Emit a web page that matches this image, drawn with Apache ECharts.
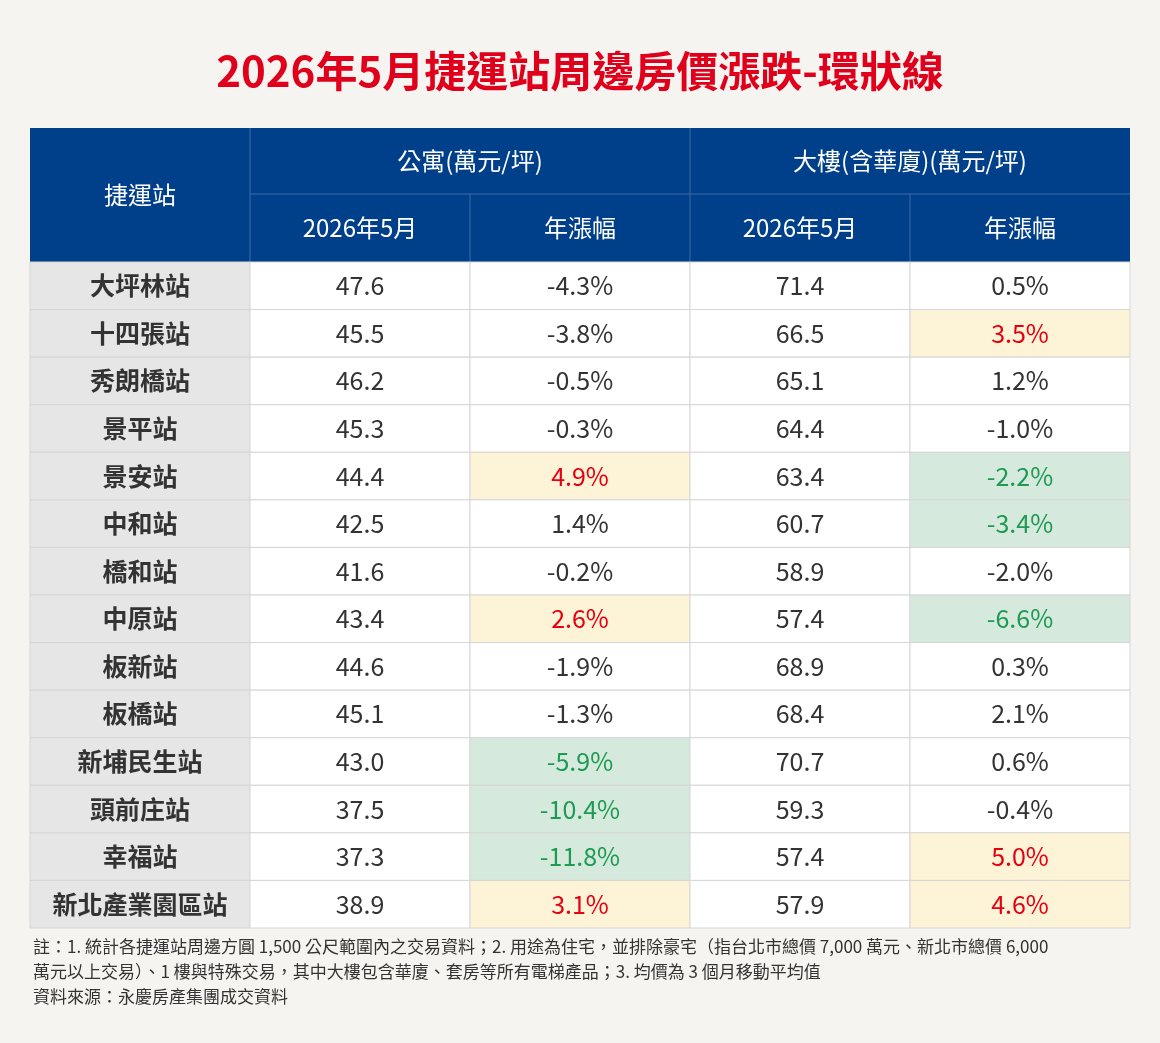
<!DOCTYPE html>
<html><head><meta charset="utf-8">
<script src="https://cdn.jsdelivr.net/npm/echarts@6/dist/echarts.min.js"></script>
<style>html,body{margin:0;background:#f5f4f0}#c{width:1160px;height:1043px}</style>
</head><body><div id="c"></div>
<script>
// 資料
var stations = ['大坪林站','十四張站','秀朗橋站','景平站','景安站','中和站','橋和站','中原站','板新站','板橋站','新埔民生站','頭前庄站','幸福站','新北產業園區站'];
var aptPrice = [47.6,45.5,46.2,45.3,44.4,42.5,41.6,43.4,44.6,45.1,43.0,37.5,37.3,38.9];
var aptChange = [-4.3,-3.8,-0.5,-0.3,4.9,1.4,-0.2,2.6,-1.9,-1.3,-5.9,-10.4,-11.8,3.1];
var bldPrice = [71.4,66.5,65.1,64.4,63.4,60.7,58.9,57.4,68.9,68.4,70.7,59.3,57.4,57.9];
var bldChange = [0.5,3.5,1.2,-1.0,-2.2,-3.4,-2.0,-6.6,0.3,2.1,0.6,-0.4,5.0,4.6];
var colNames = ['捷運站','aptPrice','aptChange','bldPrice','bldChange'];

var FONT = '"Noto Sans CJK TC", "Noto Sans", sans-serif';
var BLUE = '#003f8a';

// 前三名/後三名標色
function marks(arr) {
  var s = arr.slice().sort(function (a, b) { return a - b; });
  return { low: s.slice(0, 3), high: s.slice(-3) };
}
var aptMarks = marks(aptChange);
var bldMarks = marks(bldChange);

var cells = [];
stations.forEach(function (name, r) {
  cells.push([0, r, name, 'name']);
  cells.push([1, r, aptPrice[r].toFixed(1), 'num']);
  cells.push([2, r, aptChange[r], 'apt']);
  cells.push([3, r, bldPrice[r].toFixed(1), 'num']);
  cells.push([4, r, bldChange[r], 'bld']);
});

function renderCell(params, api) {
  var c = api.value(0), r = api.value(1);
  var d = cells[params.dataIndex];
  var p = api.coord([c, r]);
  var sz = api.size([1, 1]);
  var w = sz[0], h = sz[1];
  var fill = '#ffffff', color = '#333333', text = d[2], weight = 'normal';
  if (d[3] === 'name') { fill = '#e6e6e6'; weight = 'bold'; }
  if (d[3] === 'apt' || d[3] === 'bld') {
    var m = d[3] === 'apt' ? aptMarks : bldMarks;
    var v = d[2];
    text = v.toFixed(1) + '%';
    if (m.high.indexOf(v) >= 0) { fill = '#fdf3d6'; color = '#e60012'; }
    else if (m.low.indexOf(v) >= 0) { fill = '#d5eadd'; color = '#1e9a52'; }
  }
  return {
    type: 'group',
    children: [
      { type: 'rect', shape: { x: p[0] - w / 2, y: p[1] - h / 2, width: w, height: h },
        style: { fill: fill, stroke: '#d6d6d6', lineWidth: 1 } },
      { type: 'text', style: { x: p[0], y: p[1], text: text, fill: color, align: 'center', verticalAlign: 'middle',
        font: weight + ' 25px ' + FONT } }
    ]
  };
}

var L = 30, R = 1130, T = 128, H1 = 194, H2 = 262;
var cw = (R - L) / 5;
function hText(x, y, t) {
  return { type: 'text', x: x, y: y, style: { text: t, fill: '#fff', font: 'normal 24px ' + FONT, align: 'center', verticalAlign: 'middle' } };
}
var graphic = [
  { type: 'text', left: 'center', top: 50, style: { text: '2026年5月捷運站周邊房價漲跌-環狀線', fill: '#e0001b', font: 'bold 42px ' + FONT } },
  { type: 'rect', shape: { x: L, y: T, width: R - L, height: H2 - T }, style: { fill: BLUE } },
  { type: 'line', shape: { x1: L + cw, y1: T, x2: L + cw, y2: H2 }, style: { stroke: '#3d6aa8', lineWidth: 1 } },
  { type: 'line', shape: { x1: L + cw * 3, y1: T, x2: L + cw * 3, y2: H2 }, style: { stroke: '#3d6aa8', lineWidth: 1 } },
  { type: 'line', shape: { x1: L + cw * 2, y1: H1, x2: L + cw * 2, y2: H2 }, style: { stroke: '#3d6aa8', lineWidth: 1 } },
  { type: 'line', shape: { x1: L + cw * 4, y1: H1, x2: L + cw * 4, y2: H2 }, style: { stroke: '#3d6aa8', lineWidth: 1 } },
  { type: 'line', shape: { x1: L + cw, y1: H1, x2: R, y2: H1 }, style: { stroke: '#3d6aa8', lineWidth: 1 } },
  hText(L + cw / 2, (T + H2) / 2, '捷運站'),
  hText(L + cw * 2, (T + H1) / 2, '公寓(萬元/坪)'),
  hText(L + cw * 4, (T + H1) / 2, '大樓(含華廈)(萬元/坪)'),
  hText(L + cw * 1.5, (H1 + H2) / 2, '2026年5月'),
  hText(L + cw * 2.5, (H1 + H2) / 2, '年漲幅'),
  hText(L + cw * 3.5, (H1 + H2) / 2, '2026年5月'),
  hText(L + cw * 4.5, (H1 + H2) / 2, '年漲幅'),
  { type: 'text', left: 33, top: 934, style: { text: '註：1. 統計各捷運站周邊方圓 1,500 公尺範圍內之交易資料；2. 用途為住宅，並排除豪宅（指台北市總價 7,000 萬元、新北市總價 6,000\n萬元以上交易）、1 樓與特殊交易，其中大樓包含華廈、套房等所有電梯產品；3. 均價為 3 個月移動平均值\n資料來源：永慶房產集團成交資料',
    fill: '#333', font: 'normal 17px ' + FONT, lineHeight: 25 } }
];

var chart = echarts.init(document.getElementById('c'));
chart.setOption({
  backgroundColor: '#f5f4f0',
  animation: false,
  graphic: graphic,
  grid: { left: L, right: 1160 - R, top: H2, height: 928 - H2 },
  xAxis: { type: 'category', data: colNames, show: false },
  yAxis: { type: 'category', data: stations, inverse: true, show: false },
  series: [{ type: 'custom', renderItem: renderCell, data: cells.map(function (d) { return [d[0], d[1]]; }) }]
});
</script></body></html>
